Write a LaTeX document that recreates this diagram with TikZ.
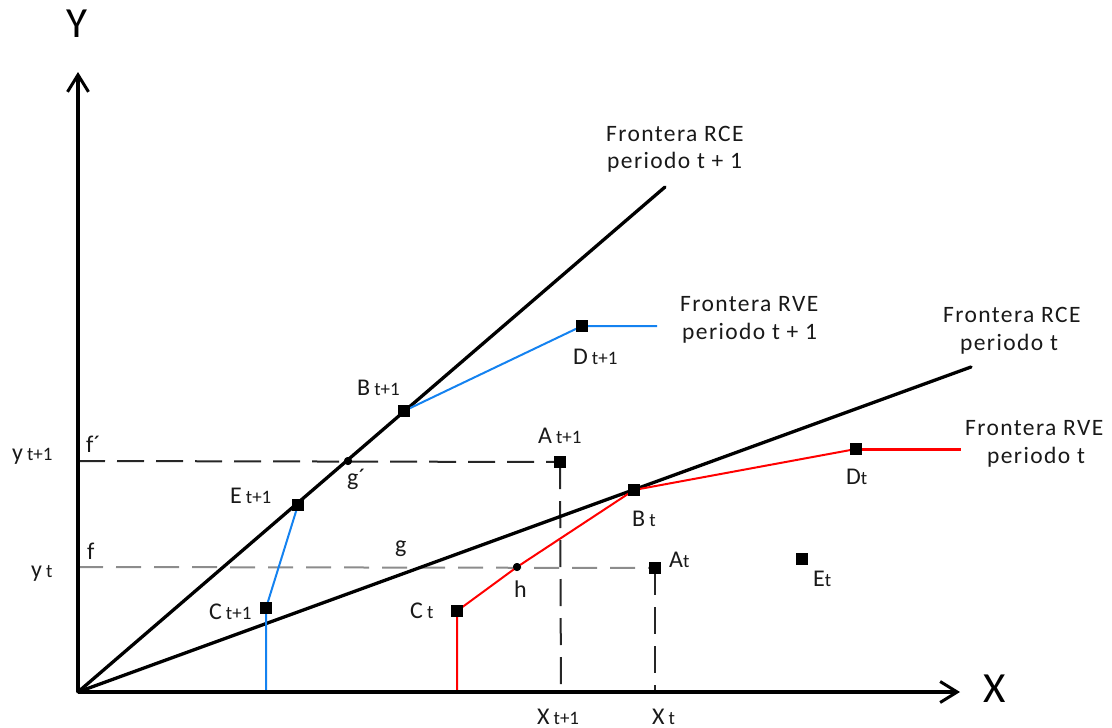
\documentclass[tikz,border=0pt]{standalone}
\usepackage{fontspec}
\setmainfont{Carlito}
\usetikzlibrary{arrows.meta}
\definecolor{rceblue}{RGB}{20,130,240}
\newcommand\smsub[1]{{\fontsize{19}{19}\selectfont #1}}
\begin{document}
\begin{tikzpicture}[x=1pt,y=-1pt,
  lbl/.style={anchor=base west,inner sep=0pt,text=black!90,font=\fontsize{24}{27}\selectfont},
  ttl/.style={anchor=base west,inner sep=0pt,text=black!90,font=\fontsize{23.5}{27}\selectfont\addfontfeature{LetterSpace=6}},
  ttlc/.style={ttl,anchor=base},
  axislbl/.style={inner sep=0pt,font=\fontsize{43}{43}\selectfont},
  axis/.style={line width=3.5pt,-{Straight Barb[length=17pt,width=21pt,line width=3pt]}},
  front/.style={line width=3.3pt,line cap=round},
  blueln/.style={line width=2pt,draw=rceblue},
  redln/.style={line width=2pt,draw=red},
  dashdark/.style={line width=2pt,dash pattern=on 27pt off 12pt,draw=black!85},
  dashgray/.style={line width=2pt,dash pattern=on 25pt off 13pt,draw=black!45},
  sq/.style={rectangle,fill=black,minimum size=11pt,inner sep=0pt},
  dotnd/.style={circle,fill=black,minimum size=8pt,inner sep=0pt},
]
\useasboundingbox (0,0) rectangle (1112,728);

% coordinates
\coordinate (O) at (78,692);
\coordinate (Ytip) at (78,72);
\coordinate (Xtip) at (960,692);
\coordinate (R1) at (665,187);
\coordinate (R0) at (971,367);
\coordinate (Ft1) at (78,461);
\coordinate (Ft) at (78,567);
\coordinate (Ct1foot) at (266,692);
\coordinate (Ctfoot) at (457,692);
\coordinate (Xt1foot) at (561,692);
\coordinate (Xtfoot) at (655,692);
\coordinate (Dt1end) at (657,326);
\coordinate (Dtend) at (961,449);

% points
\node[sq] (Ct1) at (266,608) {};
\node[sq] (Et1) at (298,505) {};
\node[dotnd] (gp) at (348,461) {};
\node[sq] (Bt1) at (404,411) {};
\node[sq] (Dt1) at (582,326) {};
\node[sq] (At1) at (560,462) {};
\node[sq] (At) at (655,568) {};
\node[sq] (Bt) at (634,490) {};
\node[sq] (Dt) at (856,449) {};
\node[dotnd] (h) at (517,567) {};
\node[sq] (Ct) at (457,611) {};
\node[sq] (Et) at (802,559) {};

% dashed guides
\draw[dashdark] (Ft1) -- (At1.center);
\draw[dashdark] (At1.center) -- (Xt1foot);
\draw[dashgray] (Ft) -- (At.center);
\draw[dashdark] (At.center) -- (Xtfoot);

% frontiers
\draw[front] (O) -- (R1);
\draw[front] (O) -- (R0);

% RVE t+1 (blue)
\draw[blueln] (Ct1foot) -- (Ct1.center) -- (Et1.center);
\draw[blueln] (Bt1.center) -- (Dt1.center) -- (Dt1end);

% RVE t (red)
\draw[redln] (Ctfoot) -- (Ct.center) -- (h.center) -- (Bt.center) -- (Dt.center);
\draw[red,line width=3pt] (Dt.center) -- (Dtend);

% axes
\draw[axis] (O) -- (Ytip);
\draw[axis] (O) -- (Xtip);

% redraw markers on top
\foreach \n in {Ct1,Et1,Bt1,Dt1,At1,At,Bt,Dt,Ct,Et}{\fill (\n.south west) rectangle (\n.north east);}
\foreach \n in {gp,h}{\fill (\n) circle (4pt);}

% axis labels
\node[axislbl] (Ylab) at (77,24) {Y};
\node[axislbl] (Xlab) at (995,689) {X};

% frontier titles
\node[ttl] (t1a) at (606,141) {Frontera RCE};
\node[ttl] (t1b) at (607,168) {periodo t + 1};
\node[ttl] (t2a) at (680,311) {Frontera RVE};
\node[ttl] (t2b) at (682,339) {periodo t + 1};
\node[ttl] (t3a) at (943,322) {Frontera RCE};
\node[ttlc] (t3b) at (1009,350) {periodo t};
\node[ttl] (t4a) at (965,435) {Frontera RVE};
\node[ttlc] (t4b) at (1036,463) {periodo t};

% point labels
\node[lbl] (yt1lab) at (12,460) {y\,\smsub{t+1}};
\node[lbl] (ytlab) at (31,577) {y\,\smsub{t}};
\node[lbl] (fplab) at (86,452) {f´};
\node[lbl] (flab) at (87,559) {f};
\node[lbl] (Et1lab) at (230,503) {E\,\smsub{t+1}};
\node[lbl] (gplab) at (347,485) {g´};
\node[lbl] (Ct1lab) at (209,619) {C\,\smsub{t+1}};
\node[lbl] (Bt1lab) at (357,395) {B\,\smsub{t+1}};
\node[lbl] (At1lab) at (538,443) {A\,\smsub{t+1}};
\node[lbl] (Dt1lab) at (573,364) {D\,\smsub{t+1}};
\node[lbl] (glab) at (395,552) {g};
\node[lbl] (hlab) at (514,597) {h};
\node[lbl] (Ctlab) at (410,618) {C\,\smsub{t}};
\node[lbl] (Btlab) at (632,526) {B\,\smsub{t}};
\node[lbl] (Atlab) at (669,567) {A\smsub{t}};
\node[lbl] (Dtlab) at (846,484) {D\smsub{t}};
\node[lbl] (Etlab) at (813,586) {E\smsub{t}};
\node[lbl] (Xt1lab) at (537,724) {X\,\smsub{t+1}};
\node[lbl] (Xtlab) at (652,724) {X\,\smsub{t}};
\end{tikzpicture}
\end{document}
